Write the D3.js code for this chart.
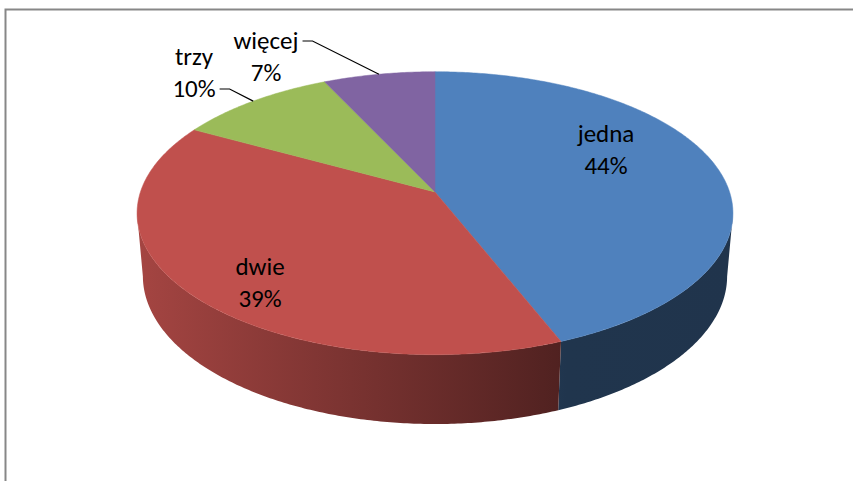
<!DOCTYPE html>
<html>
<head>
<meta charset="utf-8">
<script src="https://cdn.jsdelivr.net/npm/d3@7"></script>
<style>
  body { margin: 0; background: #fff; }
  svg { display: block; }
  text { font-family: Carlito, Calibri, Lato, sans-serif; font-size: 25px; fill: #000; }
</style>
</head>
<body>
<svg id="chart" width="853" height="481"></svg>
<script>
// data
var categories = ["jedna", "dwie", "trzy", "więcej"];
var values = [44, 39, 10, 7];
var colors = ["#4F81BD", "#C0504D", "#9BBB59", "#8064A2"];

// label anchors (centre between the two text lines) and which ones get a leader line
var labelAnchors = [[606, 150], [260, 283], [194, 73], [266, 57]];
var leaderLine = [false, false, 2, 1]; // line number the leader attaches to

var svg = d3.select("#chart");

// frame
svg.append("rect")
    .attr("x", 5.5).attr("y", 9.5)
    .attr("width", 900).attr("height", 500)
    .attr("fill", "none")
    .attr("stroke", "#878787")
    .attr("stroke-width", 2);

// perspective projection of a unit disk, angle clockwise from the far side
var elev = 28 * Math.PI / 180, dist = 5.89, focal = 1735, cx = 435, cy = 192, thick = 0.244;
function proj(t, h, r) {
    if (r === undefined) r = 1;
    var X = r * Math.sin(t), W = r * Math.cos(t);
    var yc = W * Math.sin(elev) + h * Math.cos(elev);
    var z = dist + W * Math.cos(elev) - h * Math.sin(elev);
    return [cx + focal * X / z, cy - focal * yc / z];
}
function arcPoints(a0, a1, h) {
    var pts = [], n = Math.max(2, Math.ceil(Math.abs(a1 - a0) / 0.01));
    for (var i = 0; i <= n; i++) pts.push(proj(a0 + (a1 - a0) * i / n, h));
    return pts;
}

var pie = d3.pie().sort(null).startAngle(0).endAngle(2 * Math.PI);
var arcs = pie(values);
var line = d3.line();

// side shading gradient across the pie width
var defs = svg.append("defs");
colors.forEach(function(c, i) {
    var base = d3.rgb(c);
    var g = defs.append("linearGradient")
        .attr("id", "side" + i)
        .attr("gradientUnits", "userSpaceOnUse")
        .attr("x1", 135).attr("x2", 735).attr("y1", 0).attr("y2", 0);
    [[0, 0.86], [0.72, 0.41], [1, 0.40]].forEach(function(s) {
        g.append("stop")
            .attr("offset", s[0])
            .attr("stop-color", d3.rgb(base.r * s[1], base.g * s[1], base.b * s[1]).formatHex());
    });
});

// visible front wall
var silR = Math.acos(-Math.cos(elev) / dist), silL = 2 * Math.PI - silR;
var sides = svg.append("g");
arcs.forEach(function(d, i) {
    var lo = Math.max(d.startAngle, silR), hi = Math.min(d.endAngle, silL);
    if (hi <= lo) return;
    var pts = arcPoints(lo, hi, 0).concat(arcPoints(hi, lo, -thick));
    sides.append("path")
        .attr("d", line(pts) + "Z")
        .attr("fill", "url(#side" + i + ")");
});

// top face
var topFace = svg.append("g");
arcs.forEach(function(d, i) {
    var pts = [proj(0, 0, 0)].concat(arcPoints(d.startAngle, d.endAngle, 0));
    topFace.append("path")
        .attr("d", line(pts) + "Z")
        .attr("fill", colors[i])
        .attr("stroke", colors[i])
        .attr("stroke-width", 0.5);
});

// labels
var labels = svg.append("g");
arcs.forEach(function(d, i) {
    var a = labelAnchors[i];
    var t1 = labels.append("text")
        .attr("x", a[0]).attr("y", a[1] - 8)
        .attr("text-anchor", "middle")
        .text(categories[i]);
    var t2 = labels.append("text")
        .attr("x", a[0]).attr("y", a[1] + 24)
        .attr("text-anchor", "middle")
        .text(values[i] + "%");
    if (leaderLine[i]) {
        var t = leaderLine[i] === 1 ? t1 : t2;
        var w = t.node().getComputedTextLength();
        var y0 = (leaderLine[i] === 1 ? a[1] - 8 : a[1] + 24) - 8;
        var x0 = a[0] + w / 2 + 4;
        var mid = (d.startAngle + d.endAngle) / 2;
        var end = proj(mid, 0, 1);
        labels.append("path")
            .attr("d", line([[x0, y0], [x0 + 10, y0], end]))
            .attr("fill", "none")
            .attr("stroke", "#000")
            .attr("stroke-width", 1.2);
    }
});
</script>
</body>
</html>
